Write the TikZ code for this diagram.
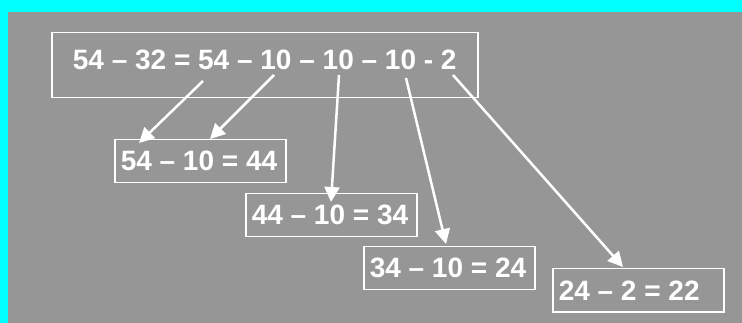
\documentclass[tikz,border=0pt]{standalone}
\usepackage{fontspec}
\setmainfont{Liberation Sans}
\usetikzlibrary{arrows.meta,calc,positioning}
\definecolor{slide}{RGB}{150,150,150}
\definecolor{rim}{RGB}{0,255,255}
\newcommand{\lefttext}[1]{\makebox[159pt][l]{#1}}
\tikzset{
  sumbox/.style={draw=white,line width=1.5pt,text=white,
    font=\fontsize{28}{32}\selectfont\bfseries,inner sep=0pt},
  whole/.style={sumbox,anchor=north west,minimum width=426pt,
    minimum height=65pt,text depth=12pt},
  part/.style={sumbox,anchor=north west,inner xsep=6pt,minimum height=43pt},
  link/.style={white,line width=2.5pt,-{Triangle[length=15pt,width=15pt]}},
}
\begin{document}
\begin{tikzpicture}[x=1pt,y=-1pt]
    \fill[rim] (0,0) rectangle (742,323);
    \fill[slide] (8,12) rectangle (742,323);
    \node[whole] (eq) at (51,32) {54 -- 32 = 54 -- 10 -- 10 -- 10 - 2};
    \node[part] (d1) at (114,139) {\lefttext{54 -- 10 = 44}};
    \node[part] (d2) at (245,193) {\lefttext{44 -- 10 = 34}};
    \node[part] (d3) at (363,246) {\lefttext{34 -- 10 = 24}};
    \node[part] (d4) at (552,268) {\lefttext{24 -- 2 = 22}};
    % arrow ends under the numbers
    \coordinate (a1) at (203,81);  \coordinate (b1) at (139,143);
    \coordinate (a2) at (274,75);  \coordinate (b2) at (210,139);
    \coordinate (a3) at (339,75);  \coordinate (b3) at (331,202);
    \coordinate (a4) at (406,78);  \coordinate (b4) at (446,244);
    \coordinate (a5) at (453,75);  \coordinate (b5) at (623,267);
    \foreach \i in {1,...,5} \draw[link] (a\i) -- (b\i);
\end{tikzpicture}
\end{document}
